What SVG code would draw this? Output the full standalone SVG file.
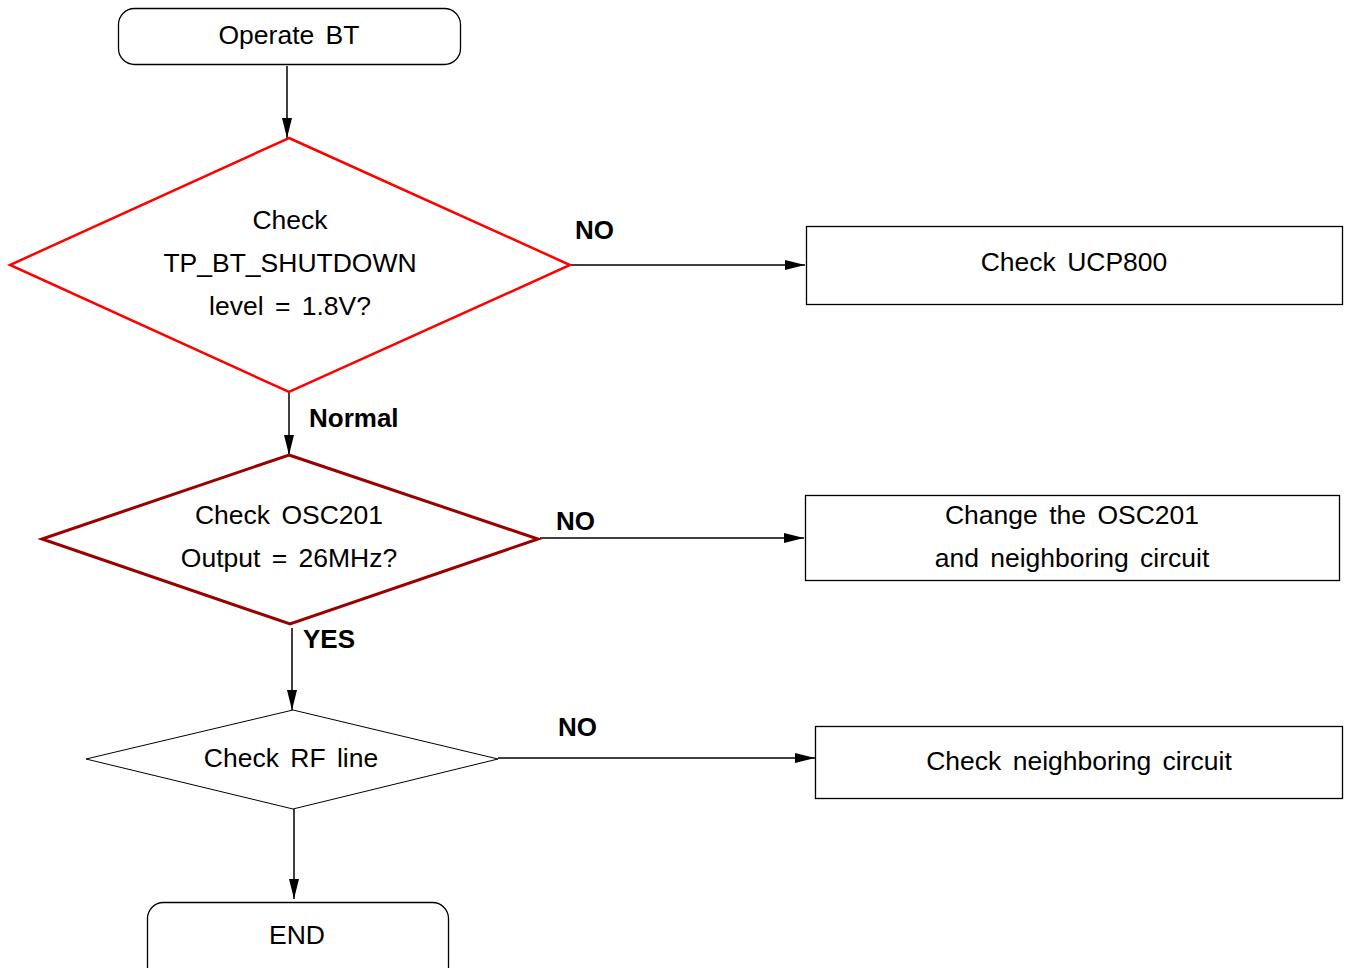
<svg xmlns="http://www.w3.org/2000/svg" width="1345" height="968" viewBox="0 0 1345 968">
<defs>
<style>
.t{font-family:"Liberation Sans",Arial,sans-serif;font-size:26.5px;fill:#000;text-anchor:middle;word-spacing:4px}
.b{font-family:"Liberation Sans",Arial,sans-serif;font-size:26px;font-weight:bold;fill:#000}
.box{fill:#fff;stroke:#000;stroke-width:1.3}
.c{stroke:#000;stroke-width:1.5;fill:none}
</style>
<marker id="ah" viewBox="0 0 20 10" refX="20" refY="5" markerWidth="20" markerHeight="10" markerUnits="userSpaceOnUse" orient="auto">
<path d="M0,0 L20,5 L0,10 Z" fill="#000"/>
</marker>
</defs>
<rect width="1345" height="968" fill="#fff"/>
<g id="connectors">
<line class="c" x1="287" y1="66" x2="287" y2="138" marker-end="url(#ah)"/>
<line class="c" x1="570" y1="265" x2="805" y2="265" marker-end="url(#ah)"/>
<line class="c" x1="289" y1="392" x2="289" y2="455" marker-end="url(#ah)"/>
<line class="c" x1="540" y1="538" x2="804" y2="538" stroke-width="2" marker-end="url(#ah)"/>
<line class="c" x1="292" y1="628" x2="292" y2="710" marker-end="url(#ah)"/>
<line class="c" x1="498" y1="758" x2="815" y2="758" marker-end="url(#ah)"/>
<line class="c" x1="294" y1="809" x2="294" y2="899" marker-end="url(#ah)"/>
<text class="b" x="575" y="239">NO</text>
<text class="b" x="309" y="427">Normal</text>
<text class="b" x="556" y="530">NO</text>
<text class="b" x="303" y="648">YES</text>
<text class="b" x="558" y="736">NO</text>
</g>
<g id="start">
<rect class="box" x="118.5" y="8.5" width="342" height="56" rx="16"/>
<text class="t" x="289" y="44">Operate  BT</text>
</g>
<g id="decision1">
<polygon points="289,138 570,265 289,392 10,265" fill="#fff" stroke="#f00" stroke-width="2.5"/>
<text class="t" x="290" y="229">Check</text>
<text class="t" x="290" y="272">TP_BT_SHUTDOWN</text>
<text class="t" x="290" y="315">level  =  1.8V?</text>
</g>
<g id="box1">
<rect class="box" x="806.5" y="226.5" width="536" height="78"/>
<text class="t" x="1074" y="271">Check  UCP800</text>
</g>
<g id="decision2">
<polygon points="289,455 538,539 290,624 42,539" fill="#fff" stroke="#900" stroke-width="3"/>
<text class="t" x="289" y="524">Check  OSC201</text>
<text class="t" x="289" y="567">Output  =  26MHz?</text>
</g>
<g id="box2">
<rect class="box" x="805.5" y="495.5" width="534" height="85"/>
<text class="t" x="1072" y="524">Change  the  OSC201</text>
<text class="t" x="1072" y="567">and  neighboring  circuit</text>
</g>
<g id="decision3">
<polygon points="293,710 498,759 293,809 86,759" fill="#fff" stroke="#000" stroke-width="1"/>
<text class="t" x="291" y="767">Check  RF  line</text>
</g>
<g id="box3">
<rect class="box" x="815.5" y="726.5" width="527" height="72"/>
<text class="t" x="1079" y="770">Check  neighboring  circuit</text>
</g>
<g id="end">
<rect class="box" x="147.5" y="902.5" width="301" height="80" rx="16"/>
<text class="t" x="297" y="944">END</text>
</g>
</svg>
